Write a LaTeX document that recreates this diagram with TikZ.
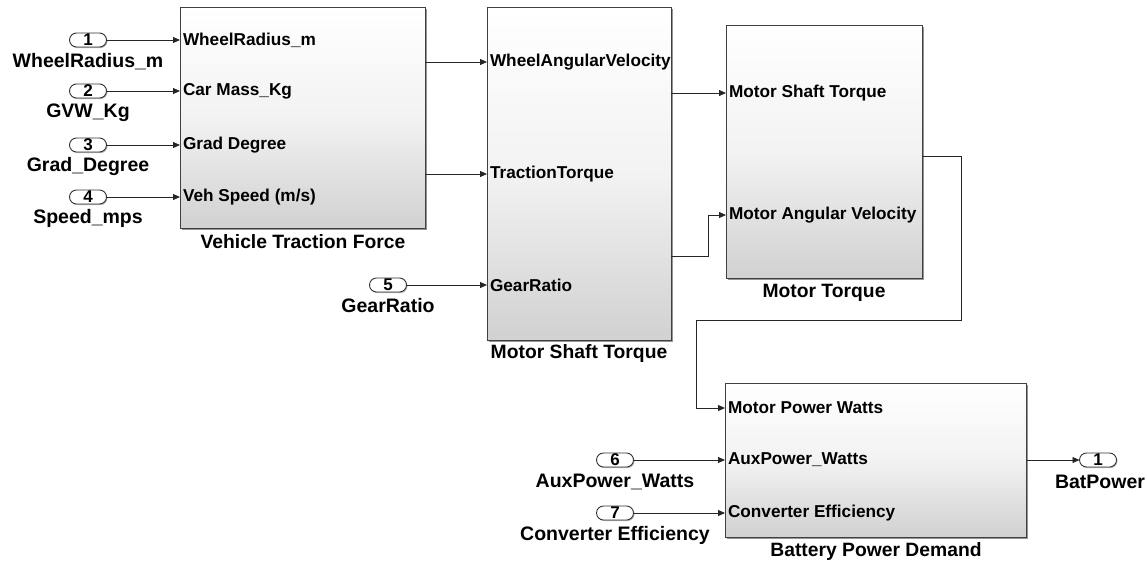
\documentclass[tikz,border=0pt]{standalone}
\usepackage{fontspec}
\setmainfont{Liberation Sans}
\usetikzlibrary{arrows.meta,shadows}

\begin{document}
\begin{tikzpicture}[x=1pt,y=-1pt,
	blk/.style={draw=black!75,line width=.9pt,inner sep=0pt,outer sep=0pt,
		top color=white,bottom color=black!18,middle color=white!95!black,
		drop shadow={shadow xshift=1.5pt,shadow yshift=-1.5pt,fill=black!60,opacity=.7}},
	inlbl/.style={anchor=west,inner xsep=3pt,inner ysep=0pt,outer sep=0pt,
		font=\fontsize{17.2}{19}\selectfont\bfseries},
	blkname/.style={font=\fontsize{19.3}{21}\selectfont\bfseries},
	port/.style={draw=black!80,line width=.9pt,rounded corners=7pt,fill=white,
		minimum width=37pt,minimum height=14pt,inner sep=0pt,outer sep=0pt,
		font=\fontsize{17}{15}\selectfont\bfseries,
		drop shadow={shadow xshift=1pt,shadow yshift=-1pt,fill=black!50,opacity=.6}},
	plbl/.style={font=\fontsize{19.5}{21}\selectfont\bfseries},
	wire/.style={draw=black!85,line width=.8pt,-{Triangle[length=7pt,width=6pt]}}]
	\useasboundingbox (0,0) rectangle (1147,563);
	% blocks
	\node[blk,minimum width=245pt,minimum height=221pt] (vtf) at (302.5,117.5) {};
	\node[blk,minimum width=184pt,minimum height=333pt] (mst) at (579,173.5) {};
	\node[blk,minimum width=196pt,minimum height=253pt] (mt) at (824,151.5) {};
	\node[blk,minimum width=301pt,minimum height=154pt] (bpd) at (875.5,460) {};
	\node[blkname] (vtf-name) at (303,242) {Vehicle Traction Force};
	\node[blkname] (mst-name) at (579,354) {Motor Shaft Torque};
	\node[blkname] (mt-name) at (824,293) {Motor Torque};
	\node[blkname] (bpd-name) at (876,551) {Battery Power Demand};
	% block inputs
	\node[inlbl] (vtf-in1) at (vtf.west |- 0,40) {WheelRadius\_m};
	\node[inlbl] (vtf-in2) at (vtf.west |- 0,91) {Car Mass\_Kg};
	\node[inlbl] (vtf-in3) at (vtf.west |- 0,145) {Grad Degree};
	\node[inlbl] (vtf-in4) at (vtf.west |- 0,197) {Veh Speed (m/s)};
	\node[inlbl] (mst-in1) at (mst.west |- 0,62) {WheelAngularVelocity};
	\node[inlbl] (mst-in2) at (mst.west |- 0,174) {TractionTorque};
	\node[inlbl] (mst-in3) at (mst.west |- 0,285) {GearRatio};
	\node[inlbl] (mt-in1) at (mt.west |- 0,93) {Motor Shaft Torque};
	\node[inlbl] (mt-in2) at (mt.west |- 0,215) {Motor Angular Velocity};
	\node[inlbl] (bpd-in1) at (bpd.west |- 0,408) {Motor Power Watts};
	\node[inlbl] (bpd-in2) at (bpd.west |- 0,460) {AuxPower\_Watts};
	\node[inlbl] (bpd-in3) at (bpd.west |- 0,513) {Converter Efficiency};
	% block outputs
	\coordinate (vtf-o1) at (vtf.east |- 0,62);
	\coordinate (vtf-o2) at (vtf.east |- 0,174);
	\coordinate (mst-o1) at (mst.east |- 0,93);
	\coordinate (mst-o2) at (mst.east |- 0,256);
	\coordinate (mt-o1) at (mt.east |- 0,156);
	\coordinate (bpd-o1) at (bpd.east |- 0,460);
	% ports
	\node[port] (p1) at (88,40) {1};
	\node[port] (p2) at (88,91) {2};
	\node[port] (p3) at (88,145) {3};
	\node[port] (p4) at (88,197) {4};
	\node[port] (p5) at (388,285) {5};
	\node[port] (p6) at (615,460) {6};
	\node[port] (p7) at (615,513) {7};
	\node[port] (out1) at (1098,460) {1};
	\node[plbl] (p1-lbl) at (88,62) {WheelRadius\_m};
	\node[plbl] (p2-lbl) at (88,113) {GVW\_Kg};
	\node[plbl] (p3-lbl) at (88,166) {Grad\_Degree};
	\node[plbl] (p4-lbl) at (88,218) {Speed\_mps};
	\node[plbl] (p5-lbl) at (388,306) {GearRatio};
	\node[plbl] (p6-lbl) at (615,482) {AuxPower\_Watts};
	\node[plbl] (p7-lbl) at (615,535) {Converter Efficiency};
	\node[plbl] (out1-lbl) at (1100,482) {BatPower};
	% wires
	\draw[wire] (p1) -- (vtf-in1.west);
	\draw[wire] (p2) -- (vtf-in2.west);
	\draw[wire] (p3) -- (vtf-in3.west);
	\draw[wire] (p4) -- (vtf-in4.west);
	\draw[wire] (p5) -- (mst-in3.west);
	\draw[wire] (vtf-o1) -- (mst-in1.west);
	\draw[wire] (vtf-o2) -- (mst-in2.west);
	\draw[wire] (mst-o1) -- (mt-in1.west);
	\draw[wire] (mst-o2) -- (708,256) |- (mt-in2.west);
	\draw[wire] (mt-o1) -- (961,156) -- (961,320) -- (696,320) |- (bpd-in1.west);
	\draw[wire] (p6) -- (bpd-in2.west);
	\draw[wire] (p7) -- (bpd-in3.west);
	\draw[wire] (bpd-o1) -- (out1);
\end{tikzpicture}
\end{document}
